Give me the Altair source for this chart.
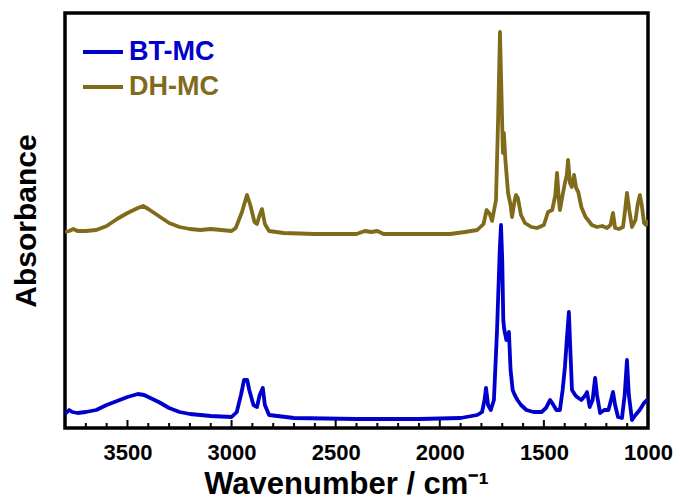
import altair as alt
import pandas as pd

# Wavenumbers (cm^-1) and displayed absorbance (offset, arbitrary units 0..1 of the frame)
bt_wn = [3800, 3780, 3765, 3740, 3700, 3650, 3600, 3550, 3500, 3450, 3420, 3400, 3350, 3300,
         3250, 3200, 3100, 3000, 2975, 2955, 2940, 2925, 2915, 2895, 2878, 2865, 2850, 2840,
         2820, 2700, 2400, 2100, 1900, 1820, 1797, 1785, 1778, 1768, 1755, 1740, 1725, 1712,
         1706, 1700, 1695, 1690, 1680, 1668, 1660, 1650, 1640, 1627, 1610, 1584, 1550, 1511,
         1490, 1470, 1460, 1440, 1423, 1410, 1399, 1390, 1380, 1373, 1365, 1350, 1341, 1320,
         1300, 1293, 1280, 1266, 1254, 1245, 1230, 1210, 1190, 1175, 1168, 1158, 1144, 1125,
         1112, 1101, 1092, 1077, 1060, 1040, 1019, 1005, 1000]
bt_px = [414, 410, 412, 413, 412, 410, 405, 401, 397, 394, 395, 397, 402, 408,
         412, 414, 416, 417, 412, 395, 380, 380, 390, 405, 407, 395, 388, 405,
         415, 418, 419, 419, 418, 415, 412, 400, 388, 405, 410, 400, 330, 250,
         225, 260, 320, 330, 340, 332, 370, 390, 395, 400, 405, 410, 412, 412,
         408, 400, 403, 410, 410, 390, 367, 340, 312, 350, 390, 395, 397, 400,
         395, 392, 407, 400, 378, 395, 413, 410, 410, 398, 392, 405, 417, 418,
         395, 360, 395, 420, 415, 410, 403, 400, 400]

dh_wn = [3800, 3780, 3760, 3740, 3700, 3650, 3600, 3550, 3500, 3450, 3425, 3400, 3350, 3300,
         3250, 3200, 3150, 3100, 3050, 3000, 2980, 2950, 2926, 2910, 2890, 2878, 2865, 2854,
         2840, 2820, 2750, 2600, 2400, 2360, 2330, 2300, 2270, 2100, 1950, 1880, 1820, 1790,
         1775, 1760, 1749, 1730, 1720, 1711, 1703, 1697, 1692, 1685, 1672, 1660, 1653, 1640,
         1634, 1625, 1610, 1591, 1560, 1533, 1500, 1480, 1460, 1445, 1437, 1428, 1423, 1410,
         1399, 1390, 1384, 1375, 1366, 1355, 1345, 1335, 1320, 1300, 1288, 1270, 1245, 1220,
         1197, 1180, 1168, 1158, 1140, 1120, 1110, 1101, 1090, 1077, 1060, 1050, 1039, 1030,
         1019, 1010, 1000]
dh_px = [232, 231, 229, 231, 231, 230, 226, 219, 213, 208, 206, 209, 216, 223,
         227, 229, 230, 229, 230, 231, 228, 212, 195, 205, 222, 224, 215, 209,
         224, 231, 233, 234, 234, 231, 232, 231, 234, 234, 234, 232, 230, 224,
         210, 214, 221, 200, 120, 32, 100, 153, 133, 160, 193, 205, 217, 200,
         195, 198, 215, 223, 227, 228, 225, 212, 210, 195, 173, 200, 210, 195,
         183, 175, 160, 183, 187, 175, 188, 192, 207, 217, 220, 225, 227, 226,
         228, 225, 213, 228, 229, 227, 210, 193, 210, 227, 220, 205, 195, 205,
         223, 225, 220]

series_names = ["BT-MC", "DH-MC"]
series_colors = ["#0000CC", "#806B1A"]
x_labels = [3500, 3000, 2500, 2000, 1500, 1000]
minor_ticks = [t for t in range(1100, 3801, 100) if t % 500 != 0]

def to_abs(px):
    return [(428 - p) / 415 for p in px]

rows = []
for w, a in zip(bt_wn, to_abs(bt_px)):
    rows.append({"wn": w, "A": a, "sample": "BT-MC"})
for w, a in zip(dh_wn, to_abs(dh_px)):
    rows.append({"wn": w, "A": a, "sample": "DH-MC"})
df = pd.DataFrame(rows)

major_df = pd.DataFrame({"t": x_labels})
minor_df = pd.DataFrame({"t": minor_ticks})

FONT = "Liberation Sans"
W, H = 583, 415

xscale = alt.Scale(domain=[1000, 3800], reverse=True, nice=False, zero=False)
yscale = alt.Scale(domain=[0, 1], nice=False, zero=False)

lines = alt.Chart(df).mark_line(strokeWidth=3.8, clip=True, strokeJoin="round").encode(
    x=alt.X("wn:Q", scale=xscale,
            axis=alt.Axis(values=x_labels, format="d", title="Wavenumber / cm⁻¹", grid=False,
                          ticks=False, domain=False, labelFont=FONT, labelFontSize=22,
                          labelFontWeight="bold", labelColor="black", labelPadding=14,
                          titleFont=FONT, titleFontSize=31, titleFontWeight="bold",
                          titleColor="black", titlePadding=6, titleX=281, labelFlush=False)),
    y=alt.Y("A:Q", scale=yscale,
            axis=alt.Axis(labels=False, ticks=False, domain=False, grid=False,
                          title="Absorbance", titleFont=FONT, titleFontSize=30,
                          titleFontWeight="bold", titleColor="black", titlePadding=24)),
    color=alt.Color("sample:N",
                    scale=alt.Scale(domain=series_names, range=series_colors),
                    legend=alt.Legend(title=None, orient="none", legendX=16, legendY=17,
                                      symbolType="stroke", symbolSize=1600,
                                      symbolStrokeWidth=4, labelFont=FONT,
                                      labelFontSize=27, labelFontWeight="bold",
                                      labelColor=alt.ExprRef(
                                          "datum.label == 'BT-MC' ? '#0000CC' : '#806B1A'"),
                                      rowPadding=0, labelOffset=4)),
    order="wn:Q",
)

major_rules = alt.Chart(major_df).mark_rule(color="black", strokeWidth=2).encode(
    x=alt.X("t:Q", scale=xscale),
    y=alt.datum(0.0),
    y2=alt.datum(8 / H),
)
minor_rules = alt.Chart(minor_df).mark_rule(color="black", strokeWidth=2).encode(
    x=alt.X("t:Q", scale=xscale),
    y=alt.datum(0.0),
    y2=alt.datum(5 / H),
)

chart = alt.layer(lines, major_rules, minor_rules).properties(
    width=W, height=H,
    padding={"left": 65, "top": 13, "right": 32, "bottom": 71},
    autosize=alt.AutoSizeParams(type="none"),
    background="white",
).configure_view(stroke="black", strokeWidth=3.5)

chart.save("out.html", embed_options={"renderer": "svg", "actions": False})
